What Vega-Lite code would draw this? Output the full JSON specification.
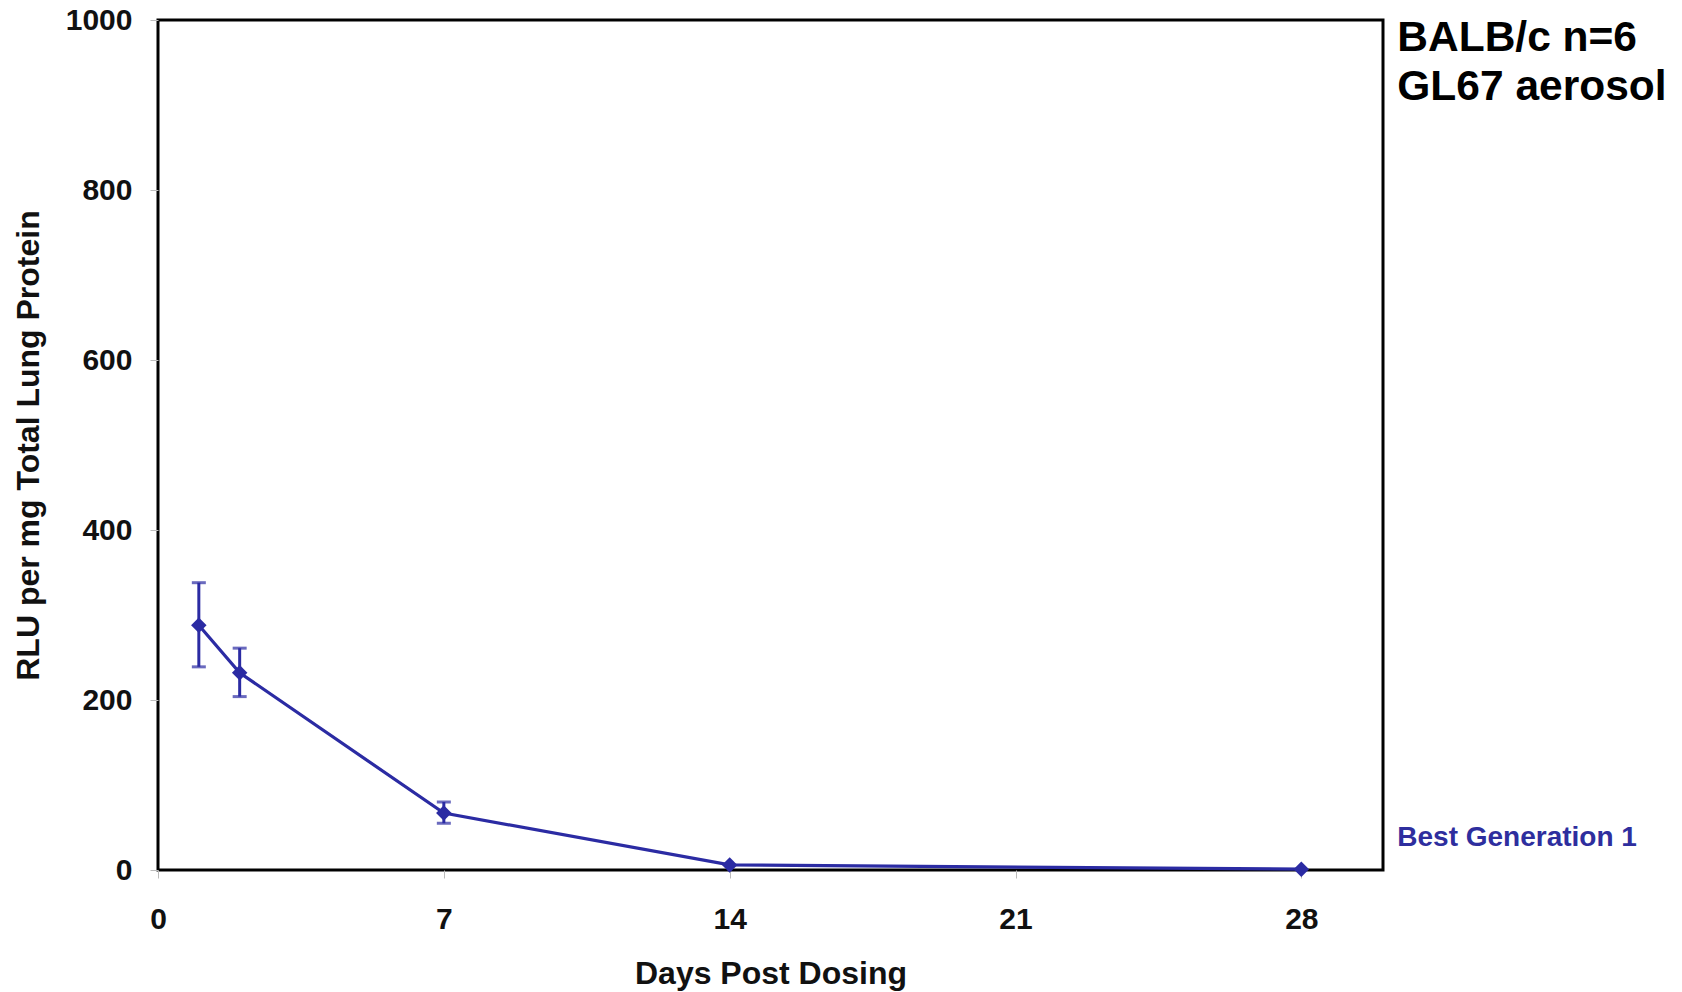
{
  "$schema": "https://vega.github.io/schema/vega-lite/v6.json",
  "autosize": {"type": "none"},
  "padding": {"left": 158, "top": 20, "right": 299, "bottom": 122},
  "width": 1225,
  "height": 850,
  "background": "white",
  "config": {
    "font": "Liberation Sans",
    "view": {"stroke": "#000000", "strokeWidth": 3},
    "axis": {
      "grid": false,
      "domain": false,
      "labelFont": "Liberation Sans",
      "labelFontWeight": "bold",
      "labelFontSize": 30,
      "labelColor": "#111111",
      "labelFlush": false,
      "titleFont": "Liberation Sans",
      "titleFontWeight": "bold",
      "titleFontSize": 32,
      "titleColor": "#111111",
      "tickColor": "#bbbbbb",
      "tickSize": 8,
      "tickWidth": 1
    }
  },
  "datasets": {
    "series": [
      {"day": 1, "rlu": 288, "lo": 239, "hi": 338},
      {"day": 2, "rlu": 232, "lo": 204, "hi": 261},
      {"day": 7, "rlu": 67, "lo": 55, "hi": 80},
      {"day": 14, "rlu": 6, "lo": null, "hi": null},
      {"day": 28, "rlu": 1, "lo": null, "hi": null}
    ],
    "notes": [
      {"day": 30.35, "rlu": 964, "label": ["BALB/c n=6", "GL67 aerosol"]}
    ],
    "legend": [
      {"day": 30.35, "rlu": 28, "label": "Best Generation 1"}
    ]
  },
  "layer": [
    {
      "data": {"name": "series"},
      "transform": [{"filter": "datum.lo != null"}],
      "mark": {"type": "rule", "color": "#2b2ba3", "strokeWidth": 3},
      "encoding": {
        "x": {"field": "day", "type": "quantitative", "scale": {"domain": [0, 30], "nice": false},
              "axis": {"values": [0, 7, 14, 21, 28], "title": "Days Post Dosing", "labelPadding": 26, "titlePadding": 24}},
        "y": {"field": "lo", "type": "quantitative", "scale": {"domain": [0, 1000], "nice": false},
              "axis": {"values": [0, 200, 400, 600, 800, 1000], "format": "d", "title": "RLU per mg Total Lung Protein", "labelPadding": 18, "titlePadding": 20}},
        "y2": {"field": "hi"}
      }
    },
    {
      "data": {"name": "series"},
      "transform": [{"filter": "datum.lo != null"}],
      "mark": {"type": "tick", "color": "#2b2ba3", "orient": "horizontal", "size": 14, "thickness": 3},
      "encoding": {
        "x": {"field": "day", "type": "quantitative"},
        "y": {"field": "lo", "type": "quantitative"}
      }
    },
    {
      "data": {"name": "series"},
      "transform": [{"filter": "datum.hi != null"}],
      "mark": {"type": "tick", "color": "#2b2ba3", "orient": "horizontal", "size": 14, "thickness": 3},
      "encoding": {
        "x": {"field": "day", "type": "quantitative"},
        "y": {"field": "hi", "type": "quantitative"}
      }
    },
    {
      "data": {"name": "series"},
      "mark": {"type": "line", "color": "#2b2ba3", "strokeWidth": 3.2},
      "encoding": {
        "x": {"field": "day", "type": "quantitative"},
        "y": {"field": "rlu", "type": "quantitative"}
      }
    },
    {
      "data": {"name": "series"},
      "mark": {"type": "point", "shape": "diamond", "filled": true, "color": "#2b2ba3", "size": 240, "opacity": 1},
      "encoding": {
        "x": {"field": "day", "type": "quantitative"},
        "y": {"field": "rlu", "type": "quantitative"}
      }
    },
    {
      "data": {"name": "notes"},
      "mark": {"type": "text", "align": "left", "baseline": "alphabetic", "font": "Liberation Sans", "fontWeight": "bold", "fontSize": 42.5, "lineHeight": 49, "color": "#000000", "clip": false},
      "encoding": {
        "x": {"field": "day", "type": "quantitative"},
        "y": {"field": "rlu", "type": "quantitative"},
        "text": {"field": "label"}
      }
    },
    {
      "data": {"name": "legend"},
      "mark": {"type": "text", "align": "left", "baseline": "alphabetic", "font": "Liberation Sans", "fontWeight": "bold", "fontSize": 28, "color": "#2e2e9e", "clip": false},
      "encoding": {
        "x": {"field": "day", "type": "quantitative"},
        "y": {"field": "rlu", "type": "quantitative"},
        "text": {"field": "label"}
      }
    }
  ]
}
